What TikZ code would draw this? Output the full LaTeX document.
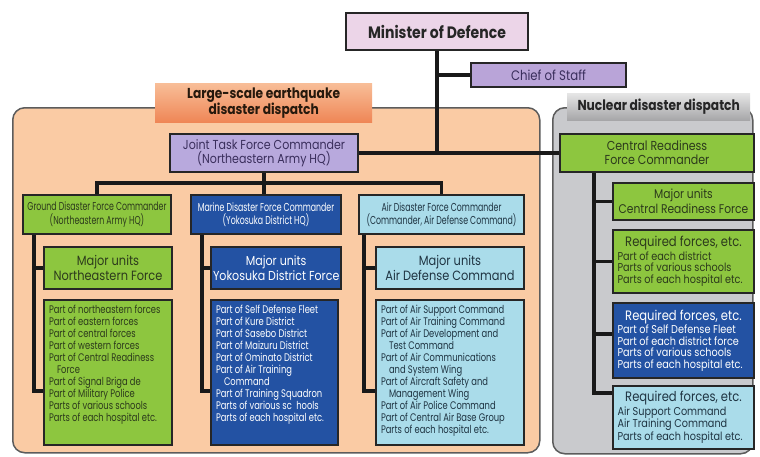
\documentclass[tikz,border=0pt]{standalone}
\usepackage{fontspec}
\setmainfont{Poppins}[FakeStretch=0.85]
\newfontfamily\narrowfont{Poppins}[FakeStretch=0.76]
\newfontfamily\cmdfont{Poppins}[FakeStretch=0.68]
\usetikzlibrary{calc}

\definecolor{boxline}{HTML}{262626}
\definecolor{panelline}{HTML}{5C5C5C}
\definecolor{mindef}{HTML}{ECD5E8}
\definecolor{staff}{HTML}{B9A4D8}
\definecolor{jtfpurple}{HTML}{B8A9DD}
\definecolor{gsdf}{HTML}{8DC63F}
\definecolor{msdf}{HTML}{2352A3}
\definecolor{asdf}{HTML}{AADCEA}
\definecolor{quakebg}{HTML}{FACBA4}
\definecolor{nuclearbg}{HTML}{C9CACD}
\definecolor{quaketop}{HTML}{F8BE98}
\definecolor{quakebot}{HTML}{EF8656}
\definecolor{graytop}{HTML}{E6E6E6}
\definecolor{graybot}{HTML}{A6A6A8}
\definecolor{greentext}{HTML}{2C3A1C}
\definecolor{skytext}{HTML}{1F3442}
\definecolor{purpletext}{HTML}{3A2E5C}

% list text hung from the top of a box of fixed size
\newcommand{\unitlist}[3]{\parbox[c][#2pt][t]{#1pt}{\raggedright\narrowfont\fontsize{11}{12}\selectfont #3}}
\newcommand{\reqlist}[2]{\parbox{132pt}{{\centering\fontsize{13.6}{14.5}\selectfont #1\par}\raggedright\fontsize{11.4}{11.6}\selectfont #2}}
\newcommand{\cont}{\hspace*{8pt}}

\begin{document}
\begin{tikzpicture}[x=1pt, y=-1pt, font=\fontsize{13.4}{15}\selectfont,
  box/.style={draw=boxline, line width=2pt, anchor=north west, align=center, inner sep=2pt},
  size/.style 2 args={minimum width=#1pt, minimum height=#2pt},
  panel/.style={draw=panelline, line width=1.5pt, rounded corners=12pt, anchor=north west},
  tag/.style={anchor=north west, align=center, inner sep=0pt, font=\bfseries\fontsize{14.4}{16}\selectfont},
  cmd/.style={box, font=\cmdfont\fontsize{11.5}{13.5}\selectfont},
  link/.style={line width=3.2pt, draw=black!90}]
\useasboundingbox (0,0) rectangle (760,456);

% the two dispatch panels
\node[panel, fill=quakebg, size={527}{345}] (quake) at (12,107) {};
\node[panel, fill=nuclearbg, size={200}{346}] (nuclear) at (552,107) {};
\node[tag, top color=quaketop, bottom color=quakebot, size={217}{39}, text=black!80!brown] (quaketag) at (155,83) {Large-scale earthquake\\disaster dispatch};
\node[tag, top color=graytop, bottom color=graybot, size={183}{27}, text=black!85] (nucleartag) at (567,93) {Nuclear disaster dispatch};

% top of the chain
\node[box, fill=mindef, size={182}{37}, font=\bfseries\fontsize{16.5}{18}\selectfont, text=black!85] (mod) at (345,12) {Minister of Defence};
\node[box, fill=staff, size={155}{24}, font=\fontsize{13.8}{15}\selectfont, text=purpletext] (cos) at (470,62) {Chief of Staff};
\node[box, fill=jtfpurple, size={188}{38}, font=\fontsize{13}{14.5}\selectfont, text=purpletext] (jtf) at (169,133) {Joint Task Force Commander\\(Northeastern Army HQ)};
\node[box, fill=gsdf, size={194}{38}, font=\fontsize{13}{14}\selectfont, text=greentext] (crf) at (559,133) {Central Readiness\\Force Commander};

% earthquake: force commanders
\node[cmd, fill=gsdf, size={148}{39}, text=greentext] (gcmd) at (22,194) {Ground Disaster Force Commander\\(Northeastern Army HQ)};
\node[cmd, fill=msdf, size={150}{39}, text=white] (mcmd) at (190,194) {Marine Disaster Force Commander\\(Yokosuka District HQ)};
\node[cmd, fill=asdf, size={165}{39}, text=skytext] (acmd) at (358,194) {Air Disaster Force Commander\\(Commander, Air Defense Command)};

% earthquake: major units
\node[box, fill=gsdf, size={128}{42}, text=greentext] (gmaj) at (43,246) {Major units\\Northeastern Force};
\node[box, fill=msdf, size={127}{42}, font=\fontsize{13}{15}\selectfont, text=white] (mmaj) at (210,246) {Major units\\Yokosuka District Force};
\node[box, fill=asdf, size={148}{42}, text=skytext] (amaj) at (375,246) {Major units\\Air Defense Command};

% earthquake: other units
\node[box, fill=gsdf, inner sep=5pt, text=greentext] (glist) at (43,299) {\unitlist{118}{135}{%
  Part of northeastern forces\\ Part of eastern forces\\ Part of central forces\\
  Part of western forces\\ Part of Central Readiness\\ \cont Force\\
  Part of Signal Briga de\\ Part of Military Police\\ Parts of various schools\\
  Parts of each hospital etc.}};
\node[box, fill=msdf, inner sep=5pt, text=white] (mlist) at (210,299) {\unitlist{117}{135}{%
  Part of Self Defense Fleet\\ Part of Kure District\\ Part of Sasebo District\\
  Part of Maizuru District\\ Part of Ominato District\\ Part of Air Training\\
  \cont Command\\ Part of Training Squadron\\ Parts of various sc\ \ hools\\
  Parts of each hospital etc.}};
\node[box, fill=asdf, inner sep=5pt, text=skytext] (alist) at (375,299) {\unitlist{138}{135}{%
  Part of Air Support Command\\ Part of Air Training Command\\ Part of Air Development and\\
  \cont Test Command\\ Part of Air Communications\\ \cont and System Wing\\
  Part of Aircraft Safety and\\ \cont Management Wing\\ Part of Air Police Command\\
  Part of Central Air Base Group\\ Parts of each hospital etc.}};

% nuclear: units under the central readiness force
\node[box, fill=gsdf, size={141}{37}, font=\fontsize{12.6}{14.5}\selectfont, text=greentext] (cmaj) at (612,182) {Major units\\Central Readiness Force};
\node[box, fill=gsdf, size={141}{63}, text=greentext] (rgreen) at (612,229) {\reqlist{Required forces, etc.}{%
  Part of each district\\ Parts of various schools\\ Parts of each hospital etc.}};
\node[box, fill=msdf, size={141}{75}, text=white] (rblue) at (612,302) {\reqlist{Required forces, etc.}{%
  Part of Self Defense Fleet\\ Part of each district force\\ Parts of various schools\\ Parts of each hospital etc.}};
\node[box, fill=asdf, size={141}{63}, text=skytext] (rsky) at (612,385) {\reqlist{Required forces, etc.}{%
  Air Support Command\\ Air Training Command\\ Parts of each hospital etc.}};

% chain of command
\draw[link] (mod.south) -- (mod.south |- crf.west);
\draw[link] (mod.south |- cos.west) -- (cos.west);
\draw[link] (jtf.east |- crf.west) -- (crf.west);
\draw[link] (jtf.south) -- (jtf.south |- mcmd.north);
\draw[link] (gcmd.north) -- ++(0,-11) -| (acmd.north);
\draw[link] ([xshift=12pt]gcmd.south west) |- (gmaj.west);
\draw[link] ([xshift=12pt]gcmd.south west) |- ([yshift=55pt]glist.south west);
\draw[link] ([xshift=12pt]mcmd.south west) |- (mmaj.west);
\draw[link] ([xshift=12pt]mcmd.south west) |- ([yshift=55pt]mlist.south west);
\draw[link] ([xshift=6pt]acmd.south west) |- (amaj.west);
\draw[link] ([xshift=6pt]acmd.south west) |- ([yshift=55pt]alist.south west);
\draw[link] ([xshift=35pt]crf.south west) |- (cmaj.west);
\draw[link] ([xshift=35pt]crf.south west) |- (rgreen.west);
\draw[link] ([xshift=35pt]crf.south west) |- ([yshift=45pt]rblue.south west);
\draw[link] ([xshift=35pt]crf.south west) |- ([yshift=-8pt]rsky.north west);
\end{tikzpicture}
\end{document}
